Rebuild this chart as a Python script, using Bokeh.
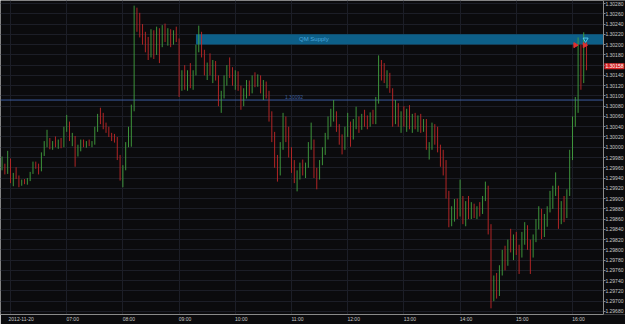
import math
from datetime import datetime, timedelta
from bokeh.plotting import figure
from bokeh.models import (ColumnDataSource, FixedTicker, PrintfTickFormatter, Label,
                          BoxAnnotation, Range1d)
from bokeh.embed import file_html
from bokeh.resources import INLINE

# ---------------- data (3-minute bars, 2012-11-20) ----------------
first_bar_time = datetime(2012, 11, 20, 5, 51)
bar_step_min = 3
first_open = 1.29960

high = [
    1.29982, 1.29968, 1.29993, 1.29978, 1.29950, 1.29961, 1.29945, 1.29937, 1.29938, 1.29940,
    1.29952, 1.29972, 1.29972, 1.29968, 1.29990, 1.30012, 1.30034, 1.30018, 1.30012, 1.30021,
    1.30015, 1.30018, 1.30040, 1.30063, 1.30050, 1.30028, 1.30022, 1.30005, 1.30015, 1.30015,
    1.30012, 1.30015, 1.30012, 1.30040, 1.30065, 1.30077, 1.30067, 1.30048, 1.30040, 1.30028,
    1.30026, 1.30020, 1.29985, 1.29965, 1.30010, 1.30040, 1.30083, 1.30276, 1.30272, 1.30262,
    1.30240, 1.30225, 1.30215, 1.30230, 1.30228, 1.30235, 1.30232, 1.30238, 1.30241, 1.30232,
    1.30230, 1.30228, 1.30235, 1.30212, 1.30150, 1.30160, 1.30150, 1.30164, 1.30150, 1.30200,
    1.30237, 1.30225, 1.30190, 1.30165, 1.30183, 1.30170, 1.30168, 1.30140, 1.30110, 1.30140,
    1.30160, 1.30175, 1.30156, 1.30150, 1.30148, 1.30120, 1.30115, 1.30131, 1.30130, 1.30140,
    1.30146, 1.30142, 1.30140, 1.30131, 1.30128, 1.30110, 1.30070, 1.30030, 1.29985, 1.30010,
    1.30067, 1.30060, 1.30040, 1.30000, 1.29975, 1.29955, 1.29970, 1.29976, 1.29970, 1.30010,
    1.30048, 1.30015, 1.29960, 1.29975, 1.30000, 1.30028, 1.30060, 1.30075, 1.30092, 1.30070,
    1.30045, 1.30025, 1.30040, 1.30067, 1.30050, 1.30055, 1.30079, 1.30060, 1.30065, 1.30073,
    1.30062, 1.30068, 1.30073, 1.30098, 1.30179, 1.30170, 1.30164, 1.30150, 1.30145, 1.30115,
    1.30092, 1.30086, 1.30070, 1.30080, 1.30075, 1.30082, 1.30065, 1.30067, 1.30062, 1.30065,
    1.30055, 1.30055, 1.30010, 1.30048, 1.30045, 1.30040, 1.30005, 1.29995, 1.29975, 1.29915,
    1.29885, 1.29899, 1.29900, 1.29937, 1.29905, 1.29895, 1.29905, 1.29893, 1.29890, 1.29885,
    1.29893, 1.29905, 1.29933, 1.29925, 1.29850, 1.29750, 1.29755, 1.29770, 1.29800, 1.29808,
    1.29820, 1.29841, 1.29830, 1.29835, 1.29810, 1.29835, 1.29854, 1.29848, 1.29820, 1.29830,
    1.29860, 1.29885, 1.29880, 1.29870, 1.29885, 1.29915, 1.29925, 1.29951, 1.29925, 1.29895,
    1.29905, 1.29918, 1.29995, 1.30060, 1.30098, 1.30214, 1.30200, 1.30224, 1.30205,
]

low = [
    1.29955, 1.29947, 1.29948, 1.29930, 1.29924, 1.29938, 1.29922, 1.29925, 1.29928, 1.29927,
    1.29934, 1.29948, 1.29958, 1.29947, 1.29953, 1.29983, 1.30000, 1.29996, 1.29995, 1.30000,
    1.29997, 1.29998, 1.30000, 1.30030, 1.30012, 1.30002, 1.29962, 1.29982, 1.29992, 1.30000,
    1.29999, 1.30002, 1.30000, 1.30005, 1.30030, 1.30045, 1.30035, 1.30028, 1.30020, 1.30012,
    1.30009, 1.29975, 1.29935, 1.29922, 1.29955, 1.30000, 1.30001, 1.30070, 1.30225, 1.30214,
    1.30200, 1.30185, 1.30170, 1.30175, 1.30172, 1.30180, 1.30164, 1.30195, 1.30205, 1.30198,
    1.30195, 1.30200, 1.30205, 1.30098, 1.30110, 1.30112, 1.30110, 1.30115, 1.30112, 1.30140,
    1.30185, 1.30175, 1.30140, 1.30131, 1.30140, 1.30125, 1.30130, 1.30080, 1.30067, 1.30095,
    1.30120, 1.30135, 1.30120, 1.30112, 1.30110, 1.30073, 1.30080, 1.30095, 1.30100, 1.30105,
    1.30117, 1.30118, 1.30105, 1.30092, 1.30095, 1.30050, 1.30010, 1.29960, 1.29933, 1.29945,
    1.29995, 1.30010, 1.29980, 1.29950, 1.29930, 1.29914, 1.29937, 1.29945, 1.29940, 1.29960,
    1.29995, 1.29940, 1.29918, 1.29937, 1.29965, 1.29985, 1.30015, 1.30040, 1.30050, 1.30030,
    1.30005, 1.29986, 1.29995, 1.30020, 1.30001, 1.30015, 1.30035, 1.30028, 1.30034, 1.30040,
    1.30035, 1.30040, 1.30045, 1.30045, 1.30085, 1.30130, 1.30125, 1.30115, 1.30106, 1.30040,
    1.30045, 1.30040, 1.30028, 1.30040, 1.30030, 1.30035, 1.30028, 1.30035, 1.30030, 1.30028,
    1.30030, 1.29995, 1.29976, 1.29995, 1.30005, 1.29990, 1.29962, 1.29945, 1.29900, 1.29844,
    1.29846, 1.29855, 1.29860, 1.29865, 1.29850, 1.29846, 1.29860, 1.29860, 1.29862, 1.29860,
    1.29865, 1.29870, 1.29895, 1.29830, 1.29686, 1.29700, 1.29705, 1.29710, 1.29750, 1.29760,
    1.29769, 1.29795, 1.29780, 1.29790, 1.29753, 1.29785, 1.29810, 1.29800, 1.29753, 1.29785,
    1.29815, 1.29840, 1.29821, 1.29825, 1.29845, 1.29873, 1.29880, 1.29905, 1.29841, 1.29850,
    1.29854, 1.29862, 1.29905, 1.29975, 1.30040, 1.30067, 1.30112, 1.30125, 1.30150,
]

close = [
    1.29965, 1.29950, 1.29975, 1.29935, 1.29945, 1.29942, 1.29928, 1.29933, 1.29930, 1.29936,
    1.29950, 1.29966, 1.29962, 1.29955, 1.29985, 1.30005, 1.30010, 1.30000, 1.30008, 1.30003,
    1.30012, 1.30002, 1.30035, 1.30045, 1.30015, 1.30020, 1.29990, 1.30000, 1.30008, 1.30003,
    1.30010, 1.30006, 1.30010, 1.30035, 1.30060, 1.30050, 1.30040, 1.30032, 1.30025, 1.30020,
    1.30015, 1.29980, 1.29945, 1.29960, 1.30005, 1.30020, 1.30075, 1.30250, 1.30240, 1.30225,
    1.30210, 1.30195, 1.30180, 1.30220, 1.30185, 1.30225, 1.30200, 1.30230, 1.30210, 1.30225,
    1.30205, 1.30220, 1.30210, 1.30120, 1.30140, 1.30125, 1.30145, 1.30120, 1.30145, 1.30190,
    1.30215, 1.30180, 1.30150, 1.30160, 1.30150, 1.30160, 1.30135, 1.30090, 1.30100, 1.30130,
    1.30150, 1.30145, 1.30130, 1.30140, 1.30115, 1.30090, 1.30105, 1.30120, 1.30110, 1.30135,
    1.30125, 1.30138, 1.30110, 1.30120, 1.30100, 1.30060, 1.30020, 1.29970, 1.29950, 1.30000,
    1.30050, 1.30020, 1.29990, 1.29960, 1.29940, 1.29945, 1.29960, 1.29950, 1.29965, 1.30000,
    1.30010, 1.29950, 1.29945, 1.29970, 1.29990, 1.30020, 1.30050, 1.30060, 1.30065, 1.30035,
    1.30015, 1.30000, 1.30030, 1.30040, 1.30020, 1.30045, 1.30050, 1.30040, 1.30055, 1.30050,
    1.30045, 1.30060, 1.30050, 1.30090, 1.30160, 1.30150, 1.30135, 1.30140, 1.30110, 1.30060,
    1.30080, 1.30050, 1.30060, 1.30045, 1.30070, 1.30040, 1.30055, 1.30045, 1.30055, 1.30035,
    1.30050, 1.30000, 1.30000, 1.30040, 1.30020, 1.30000, 1.29975, 1.29960, 1.29910, 1.29860,
    1.29870, 1.29890, 1.29870, 1.29900, 1.29860, 1.29885, 1.29870, 1.29885, 1.29868, 1.29880,
    1.29875, 1.29900, 1.29920, 1.29840, 1.29730, 1.29740, 1.29715, 1.29760, 1.29790, 1.29775,
    1.29810, 1.29800, 1.29820, 1.29800, 1.29790, 1.29825, 1.29840, 1.29815, 1.29790, 1.29825,
    1.29850, 1.29870, 1.29840, 1.29860, 1.29880, 1.29900, 1.29915, 1.29920, 1.29860, 1.29880,
    1.29870, 1.29910, 1.29980, 1.30050, 1.30080, 1.30190, 1.30130, 1.30200, 1.30158,
]

# horizontal level, supply zone, current price
level_price = 1.30092
level_text = "1.30092"
zone_start = datetime(2012, 11, 20, 9, 18)
zone_bottom = 1.30200
zone_top = 1.30220
zone_text = "QM Supply"
last_price = 1.30158
last_text = "1.30158"

# trade arrows
sell_times = [datetime(2012, 11, 20, 16, 3), datetime(2012, 11, 20, 16, 13)]
sell_prices = [1.30199, 1.30199]
stop_times = [datetime(2012, 11, 20, 16, 14)]
stop_prices = [1.30210]

# axis ticks
tick_hours = [6, 7, 8, 9, 10, 11, 12, 13, 14, 15, 16]
tick_labels = ["2012-11-20", "07:00", "08:00", "09:00", "10:00", "11:00",
               "12:00", "13:00", "14:00", "15:00", "16:00"]
y_ticks = [round(1.29680 + 0.0002 * k, 5) for k in range(31)]

# ---------------- styling ----------------
BG = "#0b0b0d"
GRID = "#1c1e27"
UP = "#43a340"
DOWN = "#c32828"
AXIS = "#8a8a8a"
LABEL = "#c8c8c8"
FONT = "Liberation Sans"


def ms(dt):
    return int((dt - datetime(1970, 1, 1)).total_seconds() * 1000)


times = [first_bar_time + timedelta(minutes=bar_step_min * i) for i in range(len(close))]
opens = [first_open] + close[:-1]
colors = [UP if c >= o else DOWN for o, c in zip(opens, close)]
src = ColumnDataSource(dict(t=times, high=high, low=low, color=colors))

x_start = datetime(2012, 11, 20, 5, 49, 20)
axis_time = datetime(2012, 11, 20, 16, 33, 0)       # where the price scale sits
x_view_end = datetime(2012, 11, 20, 16, 56, 36)     # right edge of the window

p = figure(width=625, height=324, x_axis_type="datetime", y_axis_location="right",
           x_range=Range1d(x_start, x_view_end), y_range=Range1d(1.29674, 1.30286),
           output_backend="svg", toolbar_location=None,
           min_border_left=0, min_border_top=0, min_border_right=0, min_border_bottom=0,
           background_fill_color=BG, border_fill_color=BG, outline_line_color=None)

# grid
hour_ms = [ms(datetime(2012, 11, 20, h)) for h in tick_hours]
p.xgrid[0].ticker = FixedTicker(ticks=hour_ms)
p.ygrid[0].ticker = FixedTicker(ticks=y_ticks)
p.grid.grid_line_color = GRID
p.grid.grid_line_width = 1

# price-scale strip (hides grid under the labels)
p.add_layout(BoxAnnotation(left=ms(axis_time), fill_color=BG, fill_alpha=1.0,
                           line_color=None, level="underlay"))

# supply zone (behind bars)
p.add_layout(BoxAnnotation(left=ms(zone_start), right=ms(axis_time), bottom=zone_bottom,
                           top=zone_top, fill_color="#0d5f88", fill_alpha=1.0,
                           line_color=None, level="underlay"))

# level line
p.segment(x0=[x_start], y0=[level_price], x1=[axis_time], y1=[level_price],
          line_color="#3b5a9e", line_width=1)

# bars
p.segment(x0="t", y0="low", x1="t", y1="high", color="color", line_width=0.9, source=src)

p.add_layout(Label(x=ms(datetime(2012, 11, 20, 10, 53)), y=level_price, text=level_text,
                   text_font=FONT, text_font_size="5px", text_color="#3d5e9c",
                   text_baseline="bottom", y_offset=1))
p.add_layout(Label(x=ms(datetime(2012, 11, 20, 11, 8)), y=(zone_bottom + zone_top) / 2,
                   text=zone_text, text_font=FONT, text_font_size="6px",
                   text_color="#4aa6dc", text_baseline="middle"))

# trade arrows
p.scatter(x=sell_times, y=sell_prices, marker="triangle", angle=-math.pi / 2, size=5,
          fill_color="#e03030", line_color="#e03030")
p.scatter(x=stop_times, y=stop_prices, marker="inverted_triangle", size=5,
          fill_color=None, line_color="#50c8e8", line_width=1)

# axes
xa = p.xaxis[0]
label_ticks = []
for h, lab in zip(tick_hours, tick_labels):
    shift = 11.4 if len(lab) > 5 else 6.4
    label_ticks.append(ms(datetime(2012, 11, 20, h) + timedelta(minutes=shift)))
xa.ticker = FixedTicker(ticks=label_ticks)
xa.major_label_overrides = {t: lab for t, lab in zip(label_ticks, tick_labels)}
xa.bounds = (ms(x_start), ms(axis_time))
xa.major_tick_out = 0
xa.major_tick_in = 0
xa.minor_tick_out = 0
xa.minor_tick_in = 0
xa.major_label_standoff = 1

ya = p.yaxis[0]
ya.fixed_location = ms(axis_time)
ya.ticker = FixedTicker(ticks=y_ticks)
ya.formatter = PrintfTickFormatter(format="%.5f")
ya.major_tick_out = 2
ya.major_tick_in = 0
ya.minor_tick_out = 0
ya.minor_tick_in = 0
ya.major_label_standoff = 0

for ax in (xa, ya):
    ax.axis_line_color = AXIS
    ax.major_tick_line_color = AXIS
    ax.major_label_text_color = LABEL
    ax.major_label_text_font = FONT
    ax.major_label_text_font_size = "5px"

# current price tag on the price axis
p.add_layout(Label(x=ms(axis_time), y=last_price, text=last_text, x_offset=1,
                   text_font=FONT, text_font_size="5px", text_color="white",
                   text_baseline="middle", background_fill_color="#d42424",
                   background_fill_alpha=1.0, padding=1, level="overlay"))

open("out.html", "w").write(file_html(p, INLINE))
